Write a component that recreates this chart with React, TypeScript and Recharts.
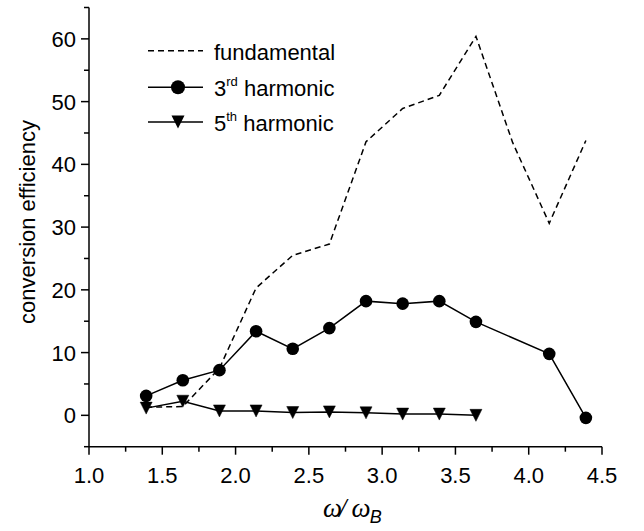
import React from 'react';
import { LineChart, Line, XAxis, YAxis, Legend, Label } from 'recharts';

// ---- data ----
const fundamentalX = [1.39, 1.64, 1.89, 2.14, 2.39, 2.64, 2.89, 3.14, 3.39, 3.64, 3.89, 4.14, 4.39];
const fundamentalY = [1.3, 1.4, 7.5, 20.3, 25.5, 27.3, 43.6, 48.9, 51.0, 60.4, 43.5, 30.6, 43.8];

const thirdX = [1.39, 1.64, 1.89, 2.14, 2.39, 2.64, 2.89, 3.14, 3.39, 3.64, 4.14, 4.39];
const thirdY = [3.1, 5.6, 7.2, 13.4, 10.6, 13.9, 18.2, 17.8, 18.2, 14.9, 9.8, -0.4];

const fifthX = [1.39, 1.64, 1.89, 2.14, 2.39, 2.64, 2.89, 3.14, 3.39, 3.64];
const fifthY = [1.15, 2.25, 0.7, 0.7, 0.45, 0.55, 0.4, 0.2, 0.2, 0.0];

const xTicks = [1.0, 1.25, 1.5, 1.75, 2.0, 2.25, 2.5, 2.75, 3.0, 3.25, 3.5, 3.75, 4.0, 4.25, 4.5];
const xMajorTicks = [1.0, 1.5, 2.0, 2.5, 3.0, 3.5, 4.0, 4.5];
const yTicks = [-5, 0, 5, 10, 15, 20, 25, 30, 35, 40, 45, 50, 55, 60, 65];
const yMajorTicks = [0, 10, 20, 30, 40, 50, 60];

const legendNames = ['fundamental', '3', '5'];
const legendSups = ['', 'rd', 'th'];
const legendRest = ['', ' harmonic', ' harmonic'];

const xLabelA = 'ω/';
const xLabelB = 'ω';
const xLabelSub = 'B';
const yLabel = 'conversion efficiency';

const fundamentalData = fundamentalX.map((x, i) => ({ x, y: fundamentalY[i] }));
const thirdData = thirdX.map((x, i) => ({ x, y: thirdY[i] }));
const fifthData = fifthX.map((x, i) => ({ x, y: fifthY[i] }));

const FONT = '"Liberation Sans", Arial, sans-serif';
const FS = 22;

const isMajor = (v: number, list: number[]) => list.some((m) => Math.abs(m - v) < 1e-6);

const YTick = (props: any) => {
  const { x, y, payload } = props;
  const v = payload.value;
  const major = isMajor(v, yMajorTicks);
  return (
    <g>
      <line x1={x} y1={y} x2={x - (major ? 8 : 5)} y2={y} stroke="#000" strokeWidth={1.5} />
      {major && (
        <text x={x - 13} y={y} dy="0.36em" textAnchor="end" fontFamily={FONT} fontSize={FS} fill="#000">
          {String(v)}
        </text>
      )}
    </g>
  );
};

const XTick = (props: any) => {
  const { x, y, payload } = props;
  const v = payload.value;
  const major = isMajor(v, xMajorTicks);
  return (
    <g>
      <line x1={x} y1={y} x2={x} y2={y + (major ? 8 : 5)} stroke="#000" strokeWidth={1.5} />
      {major && (
        <text x={x} y={y + 36} textAnchor="middle" fontFamily={FONT} fontSize={FS} fill="#000">
          {v.toFixed(1)}
        </text>
      )}
    </g>
  );
};

const Triangle = (props: any) => {
  const { cx, cy, index } = props;
  if (cx == null || cy == null) return <g key={index} />;
  const s = 6;
  return (
    <path
      key={index}
      d={`M${cx - s},${cy - s} L${cx + s},${cy - s} L${cx},${cy + s} Z`}
      fill="#000"
      stroke="#000"
      strokeWidth={0.5}
    />
  );
};

const LegendContent = () => {
  const rows = [20.7, 57.3, 92];
  return (
    <svg width={240} height={110} style={{ overflow: 'visible', display: 'block' }}>
      {rows.map((ry, i) => (
        <g key={i}>
          <line
            x1={8}
            y1={ry}
            x2={63}
            y2={ry}
            stroke="#000"
            strokeWidth={1.5}
            strokeDasharray={i === 0 ? '6 4' : undefined}
          />
          {i === 1 && <circle cx={38} cy={ry} r={7} fill="#000" />}
          {i === 2 && <path d={`M${38 - 6.5},${ry - 6.5} L${38 + 6.5},${ry - 6.5} L38,${ry + 6.5} Z`} fill="#000" />}
          <text x={74} y={ry + 9} fontFamily={FONT} fontSize={FS} fill="#000">
            {legendNames[i]}
            {legendSups[i] && (
              <tspan fontSize={13} dy={-10}>
                {legendSups[i]}
              </tspan>
            )}
            {legendRest[i] && <tspan dy={legendSups[i] ? 10 : 0}>{legendRest[i]}</tspan>}
          </text>
        </g>
      ))}
    </svg>
  );
};

const XLabel = () => (
  <text x={323} y={517} fontFamily='"Liberation Serif", "Times New Roman", serif' fontStyle="italic" fontSize={27} fill="#000">
    <tspan letterSpacing={-3}>{xLabelA}</tspan>
    <tspan dx={8}>{xLabelB}</tspan>
    <tspan fontFamily={FONT} fontSize={18} dy={6} dx={-1}>
      {xLabelSub}
    </tspan>
  </text>
);

const YLabel = () => (
  <text
    x={27}
    y={222}
    transform="rotate(-90 27 222)"
    textAnchor="middle"
    dy="0.36em"
    fontFamily={FONT}
    fontSize={FS}
    fill="#000"
  >
    {yLabel}
  </text>
);

export default function App() {
  return (
    <div style={{ position: 'absolute', left: 0, top: 0, width: 644, height: 531, background: '#fff' }}>
      <LineChart width={644} height={531} margin={{ top: 7.5, right: 42, bottom: 0, left: 0 }}>
        <XAxis
          dataKey="x"
          type="number"
          domain={[1.0, 4.5]}
          ticks={xTicks}
          interval={0}
          height={84.3}
          tickSize={0}
          tickMargin={0}
          tickLine={false}
          tick={<XTick />}
          axisLine={{ stroke: '#000', strokeWidth: 1.5 }}
          allowDataOverflow
        >
          <Label content={<XLabel />} />
        </XAxis>
        <YAxis
          dataKey="y"
          type="number"
          domain={[-5, 65]}
          ticks={yTicks}
          interval={0}
          width={89}
          tickSize={0}
          tickMargin={0}
          tickLine={false}
          tick={<YTick />}
          axisLine={{ stroke: '#000', strokeWidth: 1.5 }}
          allowDataOverflow
        >
          <Label content={<YLabel />} />
        </YAxis>
        <Legend
          layout="vertical"
          align="center"
          verticalAlign="middle"
          content={<LegendContent />}
          wrapperStyle={{ position: 'absolute', left: 140, top: 30, width: 240, height: 110 }}
        />
        <Line
          data={fundamentalData}
          dataKey="y"
          name="fundamental"
          stroke="#000"
          strokeWidth={1.5}
          strokeDasharray="6 4"
          dot={false}
          activeDot={false}
          isAnimationActive={false}
        />
        <Line
          data={thirdData}
          dataKey="y"
          name="3rd harmonic"
          stroke="#000"
          strokeWidth={1.5}
          dot={{ r: 6.3, fill: '#000', stroke: '#000', strokeWidth: 0 }}
          activeDot={false}
          isAnimationActive={false}
        />
        <Line
          data={fifthData}
          dataKey="y"
          name="5th harmonic"
          stroke="#000"
          strokeWidth={1.5}
          dot={<Triangle />}
          activeDot={false}
          isAnimationActive={false}
        />
      </LineChart>
    </div>
  );
}
